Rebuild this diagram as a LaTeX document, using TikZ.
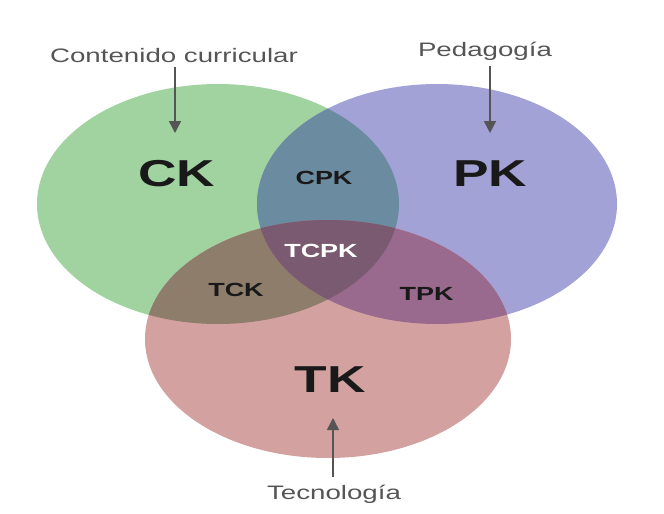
\documentclass[tikz,border=0pt]{standalone}
\usepackage{fontspec}
\setmainfont{Liberation Sans}
\usetikzlibrary{arrows.meta}
\definecolor{cgreen}{HTML}{A0D3A0}
\definecolor{cblue}{HTML}{A2A2D6}
\definecolor{cred}{HTML}{D4A1A1}
\definecolor{ccpk}{HTML}{6A8BA0}
\definecolor{ctck}{HTML}{8E7D6A}
\definecolor{ctpk}{HTML}{9A6A8E}
\definecolor{ctcpk}{HTML}{7A5A70}
\definecolor{lblgray}{HTML}{555555}
\newcommand{\sx}[1]{\scalebox{1.42}[1]{#1}}
\tikzset{
  biglbl/.style={inner sep=0pt, text=black!90, font=\bfseries\fontsize{37.5}{40}\selectfont},
  smalllbl/.style={inner sep=0pt, text=black!90, font=\bfseries\fontsize{19}{22}\selectfont},
  toplbl/.style={inner sep=2pt, text=lblgray, font=\fontsize{19.5}{23}\selectfont, anchor=base},
  arr/.style={draw=lblgray, line width=1.5pt, -{Triangle[width=12pt,length=12pt]}}
}
\begin{document}
\begin{tikzpicture}[x=1pt,y=-1pt]
\fill[white] (0,0) rectangle (664,514);
\useasboundingbox (0,0) rectangle (664,514);
% circles
\fill[cgreen] (218,204) ellipse [x radius=181, y radius=120];
\fill[cblue] (437,204) ellipse [x radius=180, y radius=120];
\fill[cred] (328,339) ellipse [x radius=183, y radius=119];
\begin{scope}
  \clip (218,204) ellipse [x radius=181, y radius=120];
  \fill[ccpk] (437,204) ellipse [x radius=180, y radius=120];
  \fill[ctck] (328,339) ellipse [x radius=183, y radius=119];
\end{scope}
\begin{scope}
  \clip (437,204) ellipse [x radius=180, y radius=120];
  \fill[ctpk] (328,339) ellipse [x radius=183, y radius=119];
\end{scope}
\begin{scope}
  \clip (218,204) ellipse [x radius=181, y radius=120];
  \clip (437,204) ellipse [x radius=180, y radius=120];
  \fill[ctcpk] (328,339) ellipse [x radius=183, y radius=119];
\end{scope}
% labels in regions
\node[biglbl] (ck) at (176.5,173.5) {\sx{CK}};
\node[biglbl] (pk) at (490,173.5) {\sx{PK}};
\node[biglbl] (tk) at (330,380) {\sx{TK}};
\node[smalllbl] (cpk) at (324,177.5) {\sx{CPK}};
\node[smalllbl, text=white] (tcpk) at (321,250.5) {\sx{TCPK}};
\node[smalllbl] (tck) at (236,289.5) {\sx{TCK}};
\node[smalllbl] (tpk) at (426.5,293.5) {\sx{TPK}};
% outer labels
\node[toplbl] (lc) at (174,62) {\sx{Contenido curricular}};
\node[toplbl] (lp) at (485,56) {\sx{Pedagogía}};
\node[toplbl] (lt) at (334,499) {\sx{Tecnología}};
% arrow tips
\coordinate (tc) at (175,133);
\coordinate (tp) at (490,133);
\coordinate (tt) at (333,418);
\draw[arr, shorten <=3pt] (lc.south -| tc) -- (tc);
\draw[arr, shorten <=4pt] (lp.south -| tp) -- (tp);
\draw[arr, shorten <=5pt] (lt.north -| tt) -- (tt);
\end{tikzpicture}
\end{document}
